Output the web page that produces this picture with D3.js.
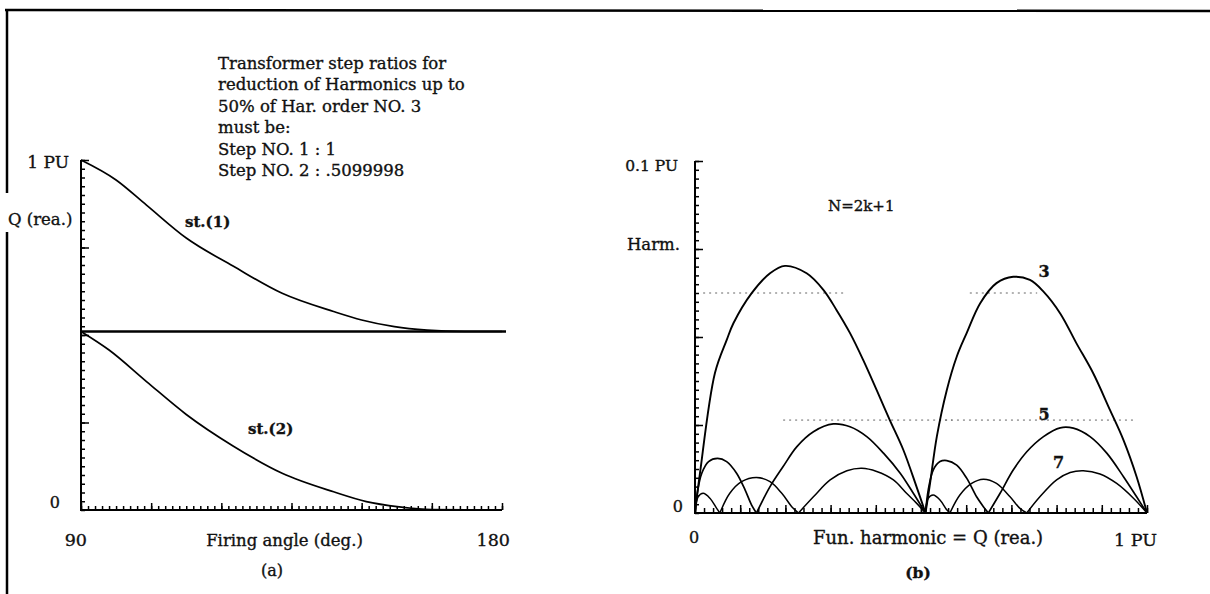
<!DOCTYPE html>
<html>
<head>
<meta charset="utf-8">
<script src="https://cdn.jsdelivr.net/npm/d3@7"></script>
<style>
body { margin: 0; background: #fff; }
text { font-family: "DejaVu Serif", serif; fill: #111; stroke: #111; stroke-width: 0.35px; }
</style>
</head>
<body>
<svg id="chart" width="1210" height="594"></svg>
<script>
// (a) reactive power of each transformer step vs firing angle
var angles1 = [90, 97.5, 104, 112.5, 122.5, 133, 144, 150, 157, 164, 172, 180];
var st1Values = [1.0, 0.943, 0.871, 0.777, 0.697, 0.619, 0.567, 0.543, 0.524, 0.514, 0.51, 0.51];
var angles2 = [90, 96, 104, 112.5, 122.5, 133, 144, 151, 158, 165, 180];
var st2Values = [0.51, 0.457, 0.367, 0.273, 0.183, 0.105, 0.052, 0.024, 0.009, 0.001, 0];
var stepRatio = 0.51;

// (b) harmonic amplitude vs fundamental, one array of lobes per order
var h3Lobes = [
    [[0, 0], [0.011, 0.0113], [0.044, 0.0397], [0.070, 0.0491], [0.085, 0.0539], [0.125, 0.0624], [0.166, 0.0681], [0.199, 0.0702], [0.247, 0.0681], [0.284, 0.0634], [0.313, 0.0577], [0.343, 0.0511], [0.372, 0.0435], [0.402, 0.0349], [0.431, 0.0264], [0.461, 0.0179], [0.490, 0.0075], [0.51, 0]],
    [[0.51, 0], [0.520, 0.0084], [0.535, 0.0217], [0.557, 0.0349], [0.579, 0.0444], [0.601, 0.0511], [0.631, 0.0596], [0.667, 0.0653], [0.704, 0.0671], [0.741, 0.0662], [0.771, 0.0629], [0.808, 0.0567], [0.844, 0.0482], [0.881, 0.0397], [0.918, 0.0293], [0.948, 0.0207], [0.977, 0.0103], [1, 0]]
];
var h5Lobes = [
    [[0, 0], [0.005, 0.0056], [0.015, 0.0113], [0.030, 0.0146], [0.050, 0.0155], [0.070, 0.0146], [0.092, 0.0113], [0.111, 0.0065], [0.125, 0.0023], [0.136, 0]],
    [[0.136, 0], [0.166, 0.0075], [0.195, 0.0132], [0.225, 0.0188], [0.262, 0.0231], [0.306, 0.0253], [0.343, 0.0245], [0.380, 0.0217], [0.417, 0.0170], [0.454, 0.0113], [0.483, 0.0056], [0.51, 0]],
    [[0.51, 0], [0.516, 0.0065], [0.527, 0.0122], [0.542, 0.0146], [0.557, 0.0149], [0.579, 0.0136], [0.601, 0.0099], [0.623, 0.0046], [0.638, 0.0018], [0.649, 0]],
    [[0.649, 0], [0.675, 0.0056], [0.704, 0.0122], [0.734, 0.0174], [0.771, 0.0217], [0.808, 0.0242], [0.837, 0.0241], [0.874, 0.0217], [0.911, 0.0170], [0.948, 0.0103], [0.977, 0.0046], [1, 0]]
];
var h7Lobes = [
    [[0, 0], [0.007, 0.0046], [0.018, 0.0056], [0.033, 0.0042], [0.048, 0.0013], [0.055, 0]],
    [[0.055, 0], [0.077, 0.0056], [0.103, 0.0089], [0.136, 0.0101], [0.166, 0.0089], [0.192, 0.0056], [0.214, 0.0018], [0.229, 0]],
    [[0.229, 0], [0.262, 0.0046], [0.299, 0.0094], [0.336, 0.0120], [0.369, 0.0127], [0.402, 0.0118], [0.439, 0.0094], [0.468, 0.0056], [0.49, 0.0028], [0.51, 0]],
    [[0.51, 0], [0.516, 0.0042], [0.527, 0.0051], [0.542, 0.0037], [0.557, 0.0009], [0.564, 0]],
    [[0.564, 0], [0.586, 0.0051], [0.612, 0.0084], [0.638, 0.0096], [0.667, 0.0084], [0.697, 0.0046], [0.719, 0.0013], [0.734, 0]],
    [[0.734, 0], [0.763, 0.0046], [0.800, 0.0094], [0.830, 0.0115], [0.859, 0.0120], [0.896, 0.0111], [0.933, 0.0084], [0.970, 0.0042], [1, 0]]
];
// faint 50% reference levels: [level, from, to]
var refLines = [[0.0625, 0.018, 0.336], [0.0625, 0.608, 0.757], [0.0264, 0.195, 0.569], [0.0264, 0.553, 0.969]];

var noteLines = ["Transformer step ratios for", "reduction of Harmonics up to",
    "50% of Har. order NO. 3", "must be:", "Step NO. 1 : 1", "Step NO. 2 : .5099998"];

var svg = d3.select("#chart");
svg.append("rect").attr("width", 1210).attr("height", 594).attr("fill", "#fff");

// page frame
svg.append("line").attr("x1", 5).attr("y1", 10).attr("x2", 1210).attr("y2", 11)
    .attr("stroke", "#000").attr("stroke-width", 2.5);
svg.append("line").attr("x1", 7).attr("y1", 10).attr("x2", 7).attr("y2", 193)
    .attr("stroke", "#000").attr("stroke-width", 2.5);
svg.append("line").attr("x1", 7).attr("y1", 232).attr("x2", 7).attr("y2", 594)
    .attr("stroke", "#000").attr("stroke-width", 2.5);

function ticks(g, axis) {
    g.call(axis).call(function(s) { s.select(".domain").remove(); });
    g.selectAll(".tick line").attr("stroke", "#000").attr("stroke-width", 1.5);
}

// ---------- panel (a) ----------
var xa = d3.scaleLinear().domain([90, 180]).range([81, 502]);
var ya = d3.scaleLinear().domain([0, 1]).range([510, 160]);

ticks(svg.append("g").attr("transform", "translate(81,0)"),
    d3.axisRight(ya).tickValues(d3.range(0, 1.001, 0.025)).tickSize(4).tickFormat(""));
ticks(svg.append("g").attr("transform", "translate(81,0)"),
    d3.axisRight(ya).tickValues([0.25, 0.5, 0.75, 1]).tickSize(8).tickFormat(""));
ticks(svg.append("g").attr("transform", "translate(0,510)"),
    d3.axisTop(xa).tickValues(d3.range(90, 180.01, 1.5)).tickSize(4).tickFormat(""));
ticks(svg.append("g").attr("transform", "translate(0,510)"),
    d3.axisTop(xa).tickValues(d3.range(90, 180.01, 15)).tickSize(7).tickFormat(""));

svg.append("path")
    .attr("d", "M" + xa(90) + "," + ya(1) + "V" + ya(0) + "H" + xa(180))
    .attr("fill", "none").attr("stroke", "#000").attr("stroke-width", 2);

var lineA = d3.line().x(function(d) { return xa(d[0]); }).y(function(d) { return ya(d[1]); })
    .curve(d3.curveMonotoneX);
svg.append("path").datum(d3.zip(angles1, st1Values)).attr("d", lineA)
    .attr("fill", "none").attr("stroke", "#000").attr("stroke-width", 1.7);
svg.append("path").datum(d3.zip(angles2, st2Values)).attr("d", lineA)
    .attr("fill", "none").attr("stroke", "#000").attr("stroke-width", 1.7);
svg.append("line").attr("x1", xa(90)).attr("x2", xa(180) + 4)
    .attr("y1", ya(stepRatio)).attr("y2", ya(stepRatio))
    .attr("stroke", "#000").attr("stroke-width", 2.4);

function label(txt, x, y, size, weight, anchor) {
    return svg.append("text").attr("x", x).attr("y", y).attr("font-size", size)
        .attr("font-weight", weight || "normal").attr("text-anchor", anchor || "start").text(txt);
}

label("1 PU", xa(90) - 12, ya(1) + 8, 17, "normal", "end");
label("Q (rea.)", 8, 225, 16.5);
label("0", xa(90) - 21, ya(0) - 2, 16, "normal", "end");
label("st.(1)", 185, 227, 15, "bold");
label("st.(2)", 248, 434, 15, "bold");
label("90", xa(90) + 6, 546, 17.5, "normal", "end");
label("Firing angle (deg.)", (xa(90) + xa(180)) / 2 - 7, 546, 16.5, "normal", "middle");
label("180", xa(180) + 8, 546, 17.5, "normal", "end");
label("(a)", 272, 576, 16, "normal", "middle");

svg.append("g").selectAll("text").data(noteLines).enter().append("text")
    .attr("x", 218).attr("y", function(d, i) { return 69 + i * 21.4; })
    .attr("font-size", 16.5)
    .text(function(d) { return d; });

// ---------- panel (b) ----------
var xb = d3.scaleLinear().domain([0, 1]).range([695, 1147]);
var yb = d3.scaleLinear().domain([0, 0.1]).range([513, 161]);

ticks(svg.append("g").attr("transform", "translate(695,0)"),
    d3.axisRight(yb).tickValues(d3.range(0, 0.10001, 0.0025)).tickSize(4).tickFormat(""));
ticks(svg.append("g").attr("transform", "translate(695,0)"),
    d3.axisRight(yb).tickValues([0.025, 0.05, 0.075, 0.1]).tickSize(8).tickFormat(""));
ticks(svg.append("g").attr("transform", "translate(0,513)"),
    d3.axisTop(xb).tickValues(d3.range(0, 1.0001, 0.02)).tickSize(5).tickFormat(""));
ticks(svg.append("g").attr("transform", "translate(0,513)"),
    d3.axisTop(xb).tickValues(d3.range(0, 1.0001, 0.1)).tickSize(8).tickFormat(""));

svg.append("path")
    .attr("d", "M" + xb(0) + "," + yb(0.1) + "V" + yb(0) + "H" + xb(1))
    .attr("fill", "none").attr("stroke", "#000").attr("stroke-width", 2);

svg.append("g").selectAll("line").data(refLines).enter().append("line")
    .attr("x1", function(d) { return xb(d[1]); }).attr("x2", function(d) { return xb(d[2]); })
    .attr("y1", function(d) { return yb(d[0]); }).attr("y2", function(d) { return yb(d[0]); })
    .attr("stroke", "#666").attr("stroke-width", 1).attr("stroke-dasharray", "2,4");

var lineB = d3.line().x(function(d) { return xb(d[0]); }).y(function(d) { return yb(d[1]); })
    .curve(d3.curveCatmullRom.alpha(0.5));
[[h3Lobes, 1.9], [h5Lobes, 1.7], [h7Lobes, 1.5]].forEach(function(h) {
    svg.append("g").selectAll("path").data(h[0]).enter().append("path")
        .attr("d", lineB).attr("fill", "none").attr("stroke", "#000").attr("stroke-width", h[1]);
});

label("0.1 PU", xb(0) - 17, yb(0.1) + 10, 15.5, "normal", "end");
label("N=2k+1", 828, 211, 15);
label("Harm.", xb(0) - 15, yb(0.075) + 1, 16.5, "normal", "end");
label("0", xb(0) - 12, yb(0) - 1, 16, "normal", "end");
label("0", xb(0) - 1, 543, 16, "normal", "middle");
label("Fun. harmonic = Q (rea.)", 813, 544, 18);
label("1 PU", xb(1) + 10, 546, 17.5, "normal", "end");
label("(b)", 918, 578, 15.5, "bold", "middle");
label("3", xb(0.76), yb(0.067), 16, "bold");
label("5", xb(0.76), yb(0.0265), 16, "bold");
label("7", xb(0.792), yb(0.0128), 16, "bold");
</script>
</body>
</html>
